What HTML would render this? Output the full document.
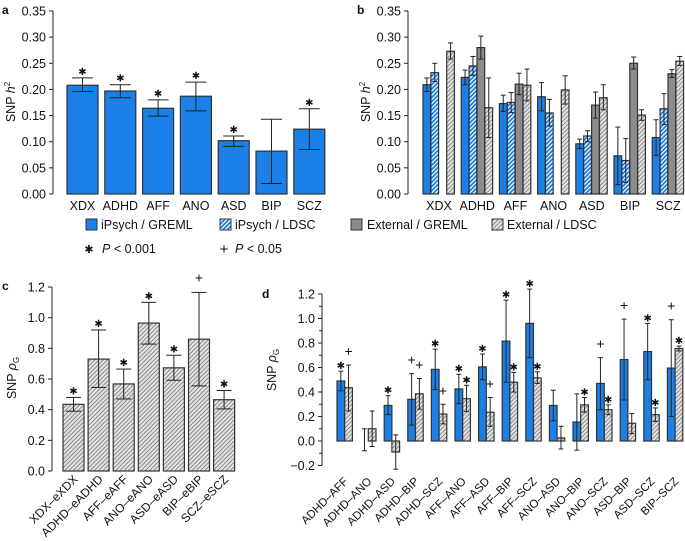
<!DOCTYPE html>
<html><head><meta charset="utf-8"><style>
html,body{margin:0;padding:0;background:#fff;}
svg{display:block;font-family:"Liberation Sans",sans-serif;}
</style></head><body>
<svg id="chart" width="685" height="541" viewBox="0 0 685 541" xmlns="http://www.w3.org/2000/svg">
<defs>
<pattern id="hb" patternUnits="userSpaceOnUse" width="3" height="3" patternTransform="rotate(45)"><rect width="3" height="3" fill="#1a7fe6"/><rect width="1.2" height="3" fill="#fff"/></pattern>
<pattern id="hg" patternUnits="userSpaceOnUse" width="3" height="3" patternTransform="rotate(45)"><rect width="3" height="3" fill="#e4e4e4"/><rect width="1" height="3" fill="#8a8a8a"/></pattern>
</defs>
</svg>
<script>
// ---- panel a data
const aCats = ['XDX','ADHD','AFF','ANO','ASD','BIP','SCZ'];
const aVals = [0.208,0.197,0.164,0.187,0.102,0.082,0.124];
const aLo = [0.196,0.184,0.149,0.159,0.091,0.020,0.085];
const aHi = [0.222,0.209,0.180,0.214,0.111,0.143,0.163];
const aSig = ['*','*','*','*','*','','*'];
const abTicks = [0,0.05,0.10,0.15,0.20,0.25,0.30,0.35];
// ---- panel b data
const bIpG = [0.209,0.223,0.173,0.186,0.096,0.073,0.108];
const bIpGLo = [0.196,0.209,0.158,0.159,0.087,0.018,0.074];
const bIpGHi = [0.222,0.237,0.189,0.213,0.105,0.128,0.142];
const bIpL = [0.232,0.245,0.175,0.155,0.111,0.064,0.163];
const bIpLLo = [0.215,0.227,0.156,0.130,0.100,0.022,0.133];
const bIpLHi = [0.250,0.263,0.194,0.181,0.121,0.106,0.192];
const bExG = [null,0.280,0.210,null,0.170,0.250,0.230];
const bExGLo = [null,0.258,0.190,null,0.145,0.239,0.223];
const bExGHi = [null,0.302,0.231,null,0.195,0.262,0.238];
const bExL = [0.273,0.165,0.208,0.199,0.184,0.151,0.254];
const bExLLo = [0.258,0.108,0.178,0.172,0.161,0.141,0.246];
const bExLHi = [0.289,0.222,0.239,0.226,0.209,0.161,0.263];
// ---- panel c data
const cCats = ['XDX–eXDX','ADHD–eADHD','AFF–eAFF','ANO–eANO','ASD–eASD','BIP–eBIP','SCZ–eSCZ'];
const cVals = [0.435,0.73,0.568,0.965,0.673,0.86,0.465];
const cLo = [0.39,0.545,0.47,0.828,0.592,0.555,0.405];
const cHi = [0.48,0.92,0.665,1.1,0.755,1.165,0.525];
const cSig = ['*','*','*','*','*','+','*'];
const cTicks = [0,0.2,0.4,0.6,0.8,1.0,1.2];
// ---- panel d data
const dCats = ['ADHD–AFF','ADHD–ANO','ADHD–ASD','ADHD–BIP','ADHD–SCZ','AFF–ANO','AFF–ASD','AFF–BIP','AFF–SCZ','ANO–ASD','ANO–BIP','ANO–SCZ','ASD–BIP','ASD–SCZ','BIP–SCZ'];
const dIp = [0.49,0.0,0.29,0.34,0.585,0.425,0.605,0.815,0.96,0.29,0.155,0.47,0.665,0.73,0.595];
const dIpLo = [0.41,-0.08,0.215,0.13,0.42,0.305,0.50,0.48,0.68,0.165,-0.075,0.255,0.335,0.50,0.20];
const dIpHi = [0.57,0.10,0.37,0.55,0.75,0.545,0.71,1.15,1.24,0.415,0.385,0.68,0.995,0.96,0.99];
const dIpSig = ['*','','*','+','*','*','*','*','*','','','+','+','*','+'];
const dEx = [0.435,0.10,-0.09,0.385,0.22,0.345,0.235,0.48,0.515,0.025,0.295,0.255,0.145,0.215,0.755];
const dExLo = [0.245,-0.045,-0.23,0.26,0.14,0.24,0.12,0.40,0.47,-0.065,0.235,0.215,0.06,0.16,0.735];
const dExHi = [0.62,0.245,0.05,0.51,0.30,0.455,0.355,0.56,0.565,0.12,0.355,0.295,0.225,0.27,0.775];
const dExSig = ['+','','','+','+','*','+','*','*','','*','*','','*','*'];
const dTicks = [-0.2,0,0.2,0.4,0.6,0.8,1.0,1.2];

const svg = document.getElementById('chart');
const NS = 'http://www.w3.org/2000/svg';
function mk(tag, attrs, name, parent){
  const el = document.createElementNS(NS, tag);
  for (const k in attrs) el.setAttribute(k, attrs[k]);
  
  
  (parent||svg).appendChild(el);
  return el;
}
function txt(x,y,s,name,opt){
  opt=opt||{};
  const t = mk('text',{x:x,y:y,'font-size':opt.fs||12,'text-anchor':opt.anchor||'start',fill:'#111'},name);
  if(opt.tr) t.setAttribute('transform',opt.tr);
  if(opt.italic) t.setAttribute('font-style','italic');
  if(opt.weight) t.setAttribute('font-weight',opt.weight);
  t.textContent = s;
  return t;
}
function yAxis(x, ticks, yf, fmt, name, minor){
  mk('line',{x1:x,x2:x,y1:yf(ticks[0]),y2:yf(ticks[ticks.length-1]),stroke:'#222','stroke-width':1},name+'-line');
  ticks.forEach(v=>{
    mk('line',{x1:x-4,x2:x,y1:yf(v),y2:yf(v),stroke:'#222','stroke-width':1},name+'-tick');
    txt(x-7,yf(v)+4.5,fmt(v),name+'-tick-label',{anchor:'end',fs:12.5});
  });
  if(minor){
    for(let i=0;i<ticks.length-1;i++){
      const v=(ticks[i]+ticks[i+1])/2;
      mk('line',{x1:x-3,x2:x,y1:yf(v),y2:yf(v),stroke:'#222','stroke-width':1},name+'-minor-tick');
    }
  }
}
function bar(x,w,y0,y1,fill,name){
  mk('rect',{x:x,y:Math.min(y0,y1),width:w,height:Math.abs(y1-y0),fill:fill,stroke:'#333','stroke-width':1.2},name);
}
function err(cx,yl,yh,cw,name){
  mk('line',{x1:cx,x2:cx,y1:yl,y2:yh,stroke:'#222','stroke-width':1},name);
  mk('line',{x1:cx-cw/2,x2:cx+cw/2,y1:yl,y2:yl,stroke:'#222','stroke-width':1},name+'-cap-low');
  mk('line',{x1:cx-cw/2,x2:cx+cw/2,y1:yh,y2:yh,stroke:'#222','stroke-width':1},name+'-cap-high');
}
function sig(cx,y,s,name){
  if(!s) return;
  if(s==='*') txt(cx,y+9,'✱',name,{anchor:'middle',fs:10});
  else txt(cx,y+2,'+',name,{anchor:'middle',fs:14});
}
function yTitle(x,y,html,name){
  const t = mk('text',{x:0,y:0,'font-size':12.5,'text-anchor':'middle',fill:'#111',transform:'translate('+x+','+y+') rotate(-90)'},name);
  t.innerHTML = html;
}
const fmt2 = v=>v.toFixed(2);
const fmt1 = v=>(v<0?'\u2212':'')+Math.abs(v).toFixed(1);
const H2 = 'SNP <tspan font-style="italic">h</tspan><tspan font-size="8" dy="-5">2</tspan>';
const RG = 'SNP <tspan font-style="italic">ρ</tspan><tspan font-size="8" dy="3">G</tspan>';

// ---------- panel a
const ya = v=>194 - v*522.9;
txt(2,14,'a','panel-a-label',{weight:'bold',fs:12});
yAxis(53,abTicks,ya,fmt2,'a-y-axis');
yTitle(15,102,H2,'a-y-axis-title');
aCats.forEach((c,i)=>{
  const x=67+i*37.8, w=31, cx=x+w/2;
  bar(x,w,ya(0),ya(aVals[i]),'#1a7fe6','a-bar-'+c.toLowerCase());
  err(cx,ya(aLo[i]),ya(aHi[i]),21,'a-errorbar');
  sig(cx,ya(aHi[i])-12,aSig[i],'a-significance');
  txt(cx,210,c,'a-x-label',{anchor:'middle',fs:12.5});
});

// ---------- panel b
const yb = v=>194 - v*522.9;
txt(357,14,'b','panel-b-label',{weight:'bold',fs:12});
yAxis(408,abTicks,yb,fmt2,'b-y-axis');
yTitle(370,102,H2,'b-y-axis-title');
const bSeries=[[bIpG,bIpGLo,bIpGHi,'#1a7fe6','ipsych-greml'],[bIpL,bIpLLo,bIpLHi,'url(#hb)','ipsych-ldsc'],[bExG,bExGLo,bExGHi,'#8c8c8c','external-greml'],[bExL,bExLLo,bExLHi,'url(#hg)','external-ldsc']];
aCats.forEach((c,g)=>{
  const gl=423+g*38.2;
  bSeries.forEach((s,j)=>{
    if(s[0][g]===null) return;
    const x=gl+j*7.9, w=7.7, cx=x+w/2;
    bar(x,w,yb(0),yb(s[0][g]),s[3],'b-bar-'+s[4]);
    err(cx,yb(s[1][g]),yb(s[2][g]),5,'b-errorbar');
  });
  txt(gl+16,210,c,'b-x-label',{anchor:'middle',fs:12.5});
});

// ---------- legend
function legBox(x,y,fill,name){ mk('rect',{x:x,y:y,width:11,height:11,fill:fill,stroke:'#333','stroke-width':1},name); }
legBox(86,219,'#1a7fe6','legend-ipsych-greml-swatch'); txt(101,229,'iPsych / GREML','legend-ipsych-greml',{fs:12.5});
legBox(220,219,'url(#hb)','legend-ipsych-ldsc-swatch'); txt(235,229,'iPsych / LDSC','legend-ipsych-ldsc',{fs:12.5});
legBox(351,219,'#8c8c8c','legend-external-greml-swatch'); txt(367,229,'External / GREML','legend-external-greml',{fs:12.5});
legBox(492,219,'url(#hg)','legend-external-ldsc-swatch'); txt(507,229,'External / LDSC','legend-external-ldsc',{fs:12.5});
txt(89,253,'✱','legend-star-symbol',{anchor:'middle',fs:11});
const l1=txt(102,253,'','legend-p001',{fs:12.5}); l1.innerHTML='<tspan font-style="italic">P</tspan> &lt; 0.001';
txt(224,254,'+','legend-plus-symbol',{anchor:'middle',fs:15});
const l2=txt(235,253,'','legend-p05',{fs:12.5}); l2.innerHTML='<tspan font-style="italic">P</tspan> &lt; 0.05';

// ---------- panel c
const yc = v=>471 - v*153.3;
txt(2,290,'c','panel-c-label',{weight:'bold',fs:12});
yAxis(52,cTicks,yc,fmt1,'c-y-axis');
yTitle(16,378,RG,'c-y-axis-title');
cCats.forEach((c,i)=>{
  const x=63+i*25.1, w=21, cx=x+w/2;
  bar(x,w,yc(0),yc(cVals[i]),'url(#hg)','c-bar');
  err(cx,yc(cLo[i]),yc(cHi[i]),15,'c-errorbar');
  sig(cx,yc(cHi[i])-12,cSig[i],'c-significance');
  txt(cx+5,480,c,'c-x-label',{anchor:'end',fs:12,tr:'rotate(-45 '+(cx+5)+' 480)'});
});

// ---------- panel d
const yd = v=>441 - v*122.5;
txt(262,298,'d','panel-d-label',{weight:'bold',fs:12});
yAxis(322,dTicks,yd,fmt1,'d-y-axis',true);
yTitle(276,370,RG,'d-y-axis-title');
dCats.forEach((c,i)=>{
  const x=337+i*23.6, w=7.7;
  bar(x,w,yd(0),yd(dIp[i]),'#1a7fe6','d-bar-ipsych');
  err(x+w/2,yd(dIpLo[i]),yd(dIpHi[i]),5,'d-errorbar');
  sig(x+w/2,yd(dIpHi[i])-11,dIpSig[i],'d-significance');
  bar(x+w,w,yd(0),yd(dEx[i]),'url(#hg)','d-bar-external');
  err(x+w*1.5,yd(dExLo[i]),yd(dExHi[i]),5,'d-errorbar');
  sig(x+w*1.5,yd(dExHi[i])-11,dExSig[i],'d-significance');
  const ax=x+w+4;
  txt(ax,482,c,'d-x-label',{anchor:'end',fs:11.5,tr:'rotate(-45 '+ax+' 482)'});
});
</script>
</body></html>
